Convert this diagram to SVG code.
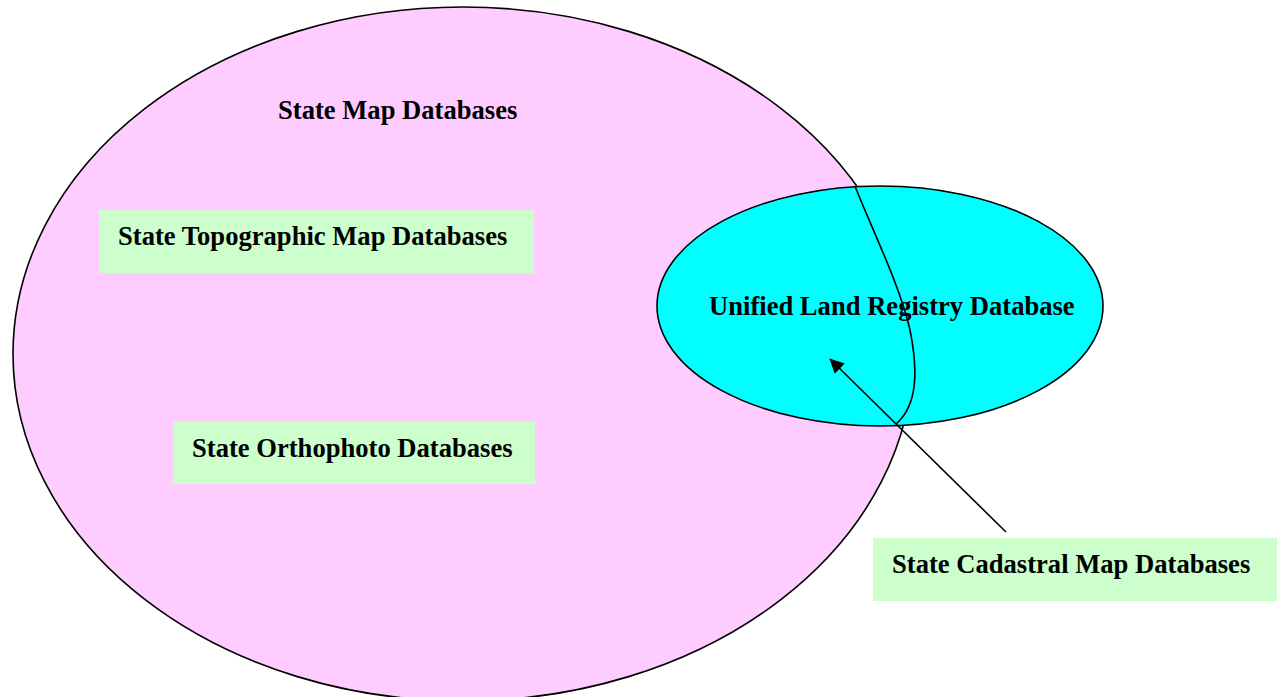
<svg xmlns="http://www.w3.org/2000/svg" width="1284" height="697" viewBox="0 0 1284 697">
<style>
.lbl{font-family:"Liberation Serif","Times New Roman",serif;font-weight:bold;font-size:26.6px;fill:#000}
.box{fill:#CCFFCC;stroke:none}
.outline{fill:none;stroke:#000;stroke-width:1.6}
</style>
<defs>
<marker id="arr" viewBox="0 0 10 10" refX="9.5" refY="5" markerWidth="9" markerHeight="9" markerUnits="strokeWidth" orient="auto">
<path d="M0,0 L10,5 L0,10 Z" fill="#000"/>
</marker>
</defs>
<rect width="1284" height="697" fill="#fff"/>
<g id="state-map-databases">
<ellipse cx="463" cy="354" rx="450" ry="347" fill="#FFCCFF" stroke="#000" stroke-width="1.6"/>
<text class="lbl" x="278" y="119">State Map Databases</text>
</g>
<g id="unified-land-registry">
<ellipse cx="880" cy="306" rx="223" ry="120" fill="#00FFFF" stroke="#000" stroke-width="1.6"/>
<path class="outline" d="M855,186 C870,225 900,285 910,330 C918,370 918,405 896,424"/>
<text class="lbl" x="709" y="315">Unified Land Registry Database</text>
</g>
<g id="topographic">
<rect class="box" x="99" y="210" width="435" height="63"/>
<text class="lbl" x="118" y="245">State Topographic Map Databases</text>
</g>
<g id="orthophoto">
<rect class="box" x="173" y="422" width="362" height="62"/>
<text class="lbl" x="192" y="457">State Orthophoto Databases</text>
</g>
<g id="cadastral">
<rect class="box" x="873" y="538" width="404" height="63"/>
<text class="lbl" x="892" y="573">State Cadastral Map Databases</text>
</g>
<g id="connectors">
<line x1="1006" y1="532" x2="830" y2="359" stroke="#000" stroke-width="1.6" marker-end="url(#arr)"/>
</g>
</svg>
